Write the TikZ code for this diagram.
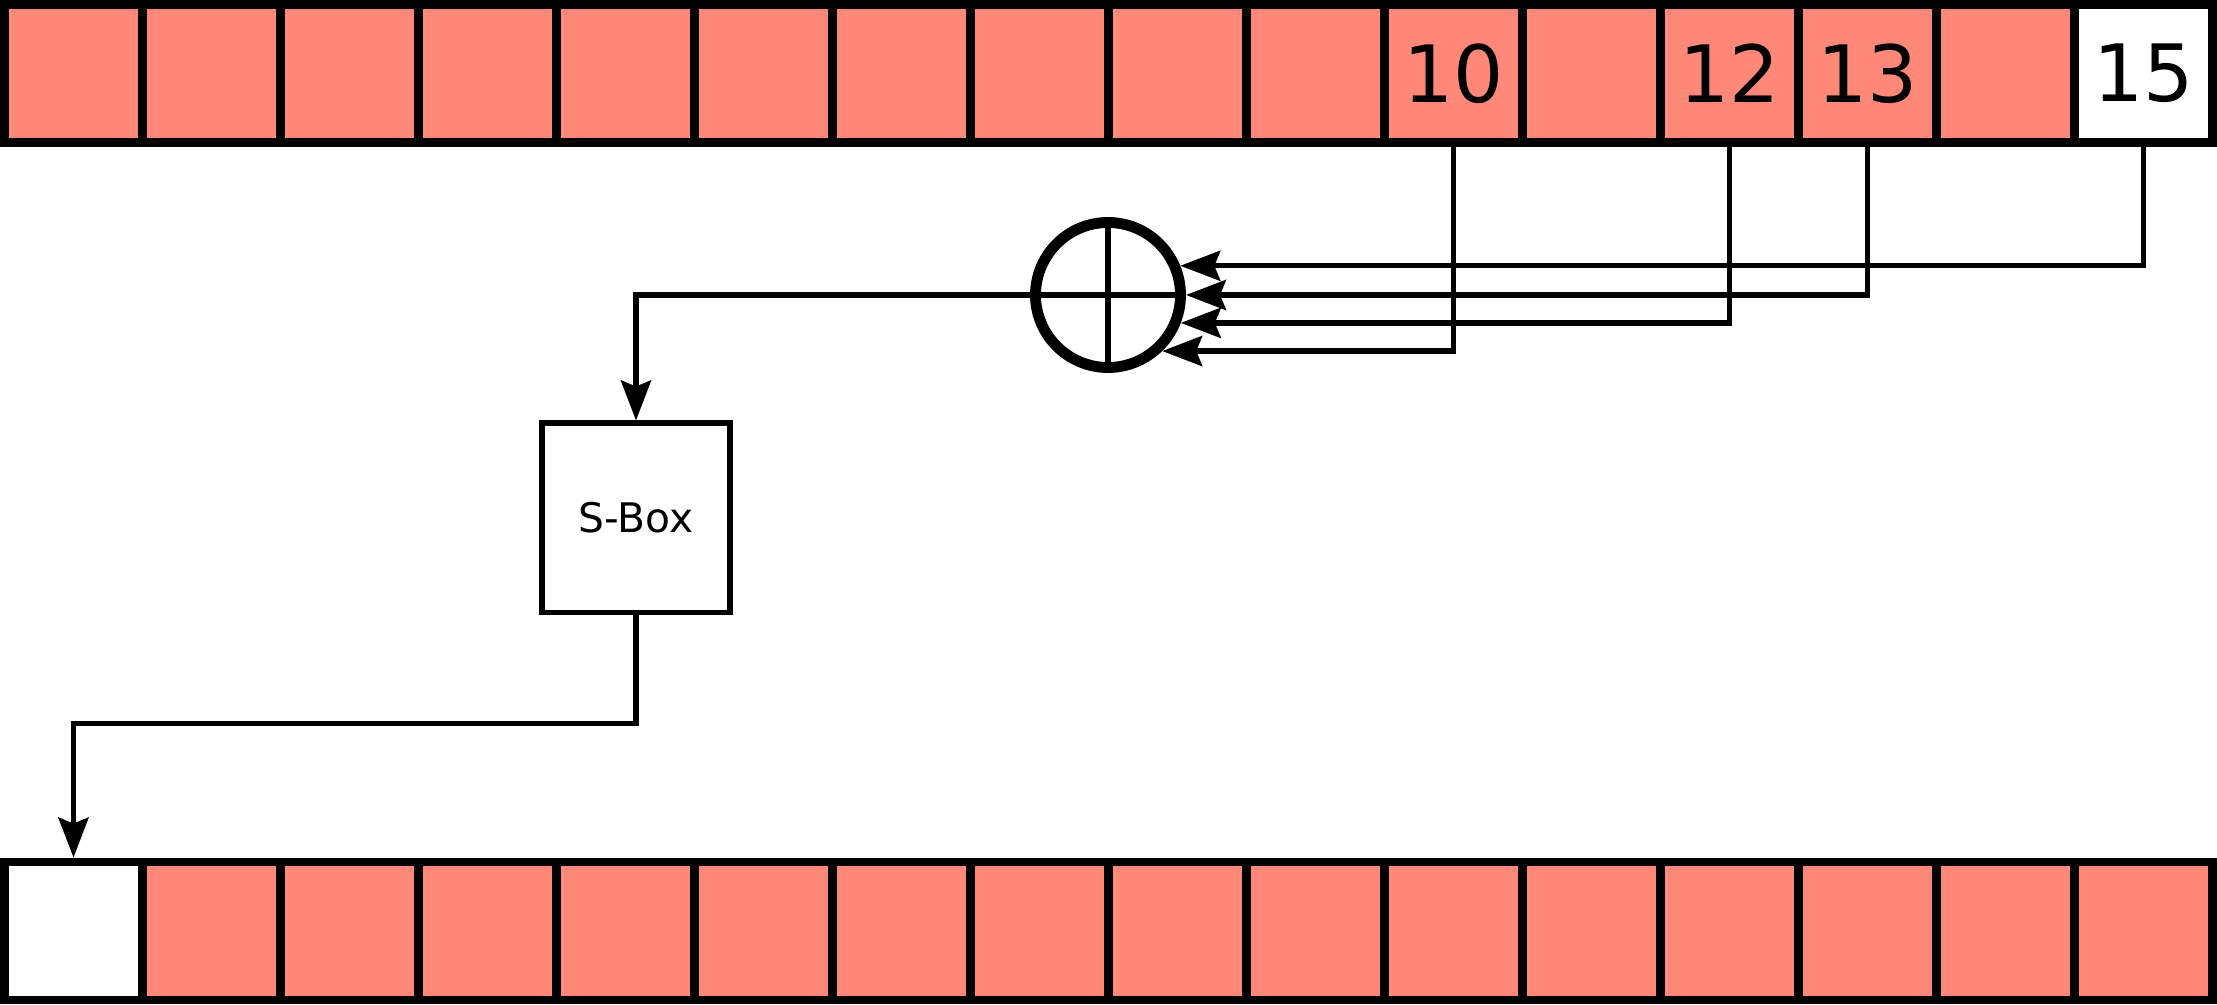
\documentclass[tikz,border=0pt]{standalone}
\usepackage{fontspec}
\setmainfont{DejaVu Sans}
\usepackage{tikz}
\usetikzlibrary{shapes.geometric, arrows, arrows.meta, positioning, calc}

\definecolor{cellred}{RGB}{255,136,120}

\tikzset{
    cell/.style={rectangle, draw=black, line width=2.5pt, fill=cellred, minimum width=1.38cm, minimum height=1.38cm, inner sep=0pt, font=\fontsize{22.5}{27}\selectfont},
    whitecell/.style={cell, fill=white},
    wire/.style={line width=1.5pt},
    arr/.style={wire, -{Stealth[length=0.40cm, width=0.30cm, inset=0.06cm]}}
}

\begin{document}
\begin{tikzpicture}
    \useasboundingbox (0,0) rectangle (22.17,10.05);

    % register before the shift
    \foreach \i/\t in {0/,1/,2/,3/,4/,5/,6/,7/,8/,9/,10/10,11/,12/12,13/13,14/}
        \node [cell] (a\i) at ({0.045+1.38*(\i+0.5)}, 9.317) {\t};
    \node [whitecell] (a15) at ({0.045+1.38*15.5}, 9.317) {15};

    % register after the shift
    \node [whitecell] (b0) at ({0.045+1.38*0.5}, 0.74) {};
    \foreach \i in {1,...,15}
        \node [cell] (b\i) at ({0.045+1.38*(\i+0.5)}, 0.74) {};

    % xor and s-box
    \node [circle, draw, line width=3.1pt, minimum size=1.45cm, inner sep=0pt] (xor) at (11.08, 7.10) {};
    \draw[line width=1.5pt] (xor.north) -- (xor.south);
    \draw[line width=1.5pt] (xor.west) -- (xor.east);

    \node [rectangle, draw, line width=1.7pt, minimum width=1.88cm, minimum height=1.89cm, font=\fontsize{11.6}{14}\selectfont] (sbox) at (6.36, 4.87) {S-Box};

    % taps
    \draw[arr] (a15.south) |- (xor.22);
    \draw[arr] (a13.south) |- (xor.east);
    \draw[arr] (a12.south) |- (xor.-21);
    \draw[arr] (a10.south) |- (xor.-46);

    \draw[arr] (xor.west) -| (sbox.north);
    \draw[arr] (sbox.south) -- ++(0,-1.08) -| (b0.north);
\end{tikzpicture}
\end{document}
